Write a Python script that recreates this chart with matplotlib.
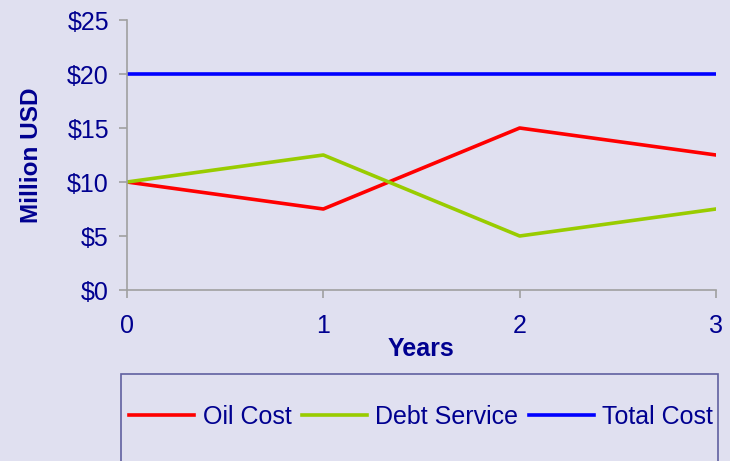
import matplotlib.pyplot as plt
from matplotlib.patches import Rectangle
from matplotlib.ticker import FuncFormatter

# Datos
years = [0, 1, 2, 3]
oil_cost = [10, 7.5, 15, 12.5]
debt_service = [10, 12.5, 5, 7.5]
total_cost = [20, 20, 20, 20]

bg = "#E0E0F0"
navy = "#000090"
spine = "#A0A0A0"

plt.rcParams["font.family"] = ["Liberation Sans", "DejaVu Sans"]

fig = plt.figure(figsize=(7.3, 4.61), dpi=100, facecolor=bg)
ax = fig.add_axes([127 / 730, 1 - 290 / 461, (716 - 127) / 730, (290 - 20) / 461])
ax.set_facecolor(bg)

ax.plot(years, oil_cost, color="#FF0000", lw=2.6, label="Oil Cost")
ax.plot(years, debt_service, color="#99CC00", lw=2.6, label="Debt Service")
ax.plot(years, total_cost, color="#0000FF", lw=2.6, label="Total Cost")

ax.set_xlim(0, 3)
ax.set_ylim(0, 25)
ax.set_xticks(years)
ax.set_yticks([0, 5, 10, 15, 20, 25])
ax.yaxis.set_major_formatter(FuncFormatter(lambda v, p: "${:.0f}".format(v)))

for s in ["top", "right"]:
    ax.spines[s].set_visible(False)
for s in ["left", "bottom"]:
    ax.spines[s].set_color(spine)
    ax.spines[s].set_linewidth(1.2)
ax.tick_params(colors=spine, labelcolor=navy, labelsize=18, length=6, width=1.2)
ax.tick_params(axis="x", pad=11)
ax.tick_params(axis="y", pad=7)

ax.set_xlabel("Years", fontsize=18, fontweight="bold", color=navy)
ax.set_ylabel("Million USD", fontsize=17.5, fontweight="bold", color=navy)
ax.xaxis.set_label_coords(0.5, -(337 - 290) / 270)
ax.yaxis.set_label_coords(-(127 - 43) / 589, 0.5)

# Caja de la leyenda
fig.patches.append(Rectangle((121 / 730, -0.05), (718 - 121) / 730, 1 - 374 / 461 + 0.05,
                             transform=fig.transFigure, fill=False,
                             edgecolor="#6060A0", lw=1.2))
leg = fig.legend(loc="center", bbox_to_anchor=(421 / 730, 1 - 417 / 461), ncol=3,
                 frameon=False, fontsize=18, handlelength=2.6, handletextpad=0.33,
                 columnspacing=0.42, labelcolor=navy, borderpad=0, borderaxespad=0)

fig.savefig("out.png", dpi=100, facecolor=bg)
